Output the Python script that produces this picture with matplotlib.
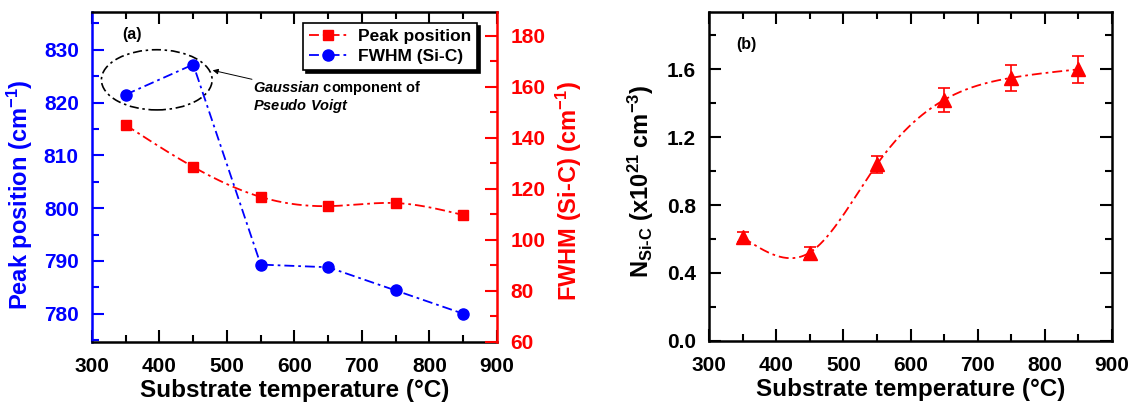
import numpy as np
import matplotlib
matplotlib.use("Agg")
import matplotlib.pyplot as plt
from matplotlib.patches import Ellipse
from matplotlib.lines import Line2D
from matplotlib.ticker import MultipleLocator, FormatStrFormatter

plt.rcParams["font.family"] = ["Liberation Sans", "DejaVu Sans"]
plt.rcParams["font.weight"] = "bold"
plt.rcParams["axes.labelweight"] = "bold"
plt.rcParams["mathtext.fontset"] = "custom"
plt.rcParams["mathtext.rm"] = "Liberation Sans:bold"
plt.rcParams["mathtext.bf"] = "Liberation Sans:bold"
plt.rcParams["mathtext.it"] = "Liberation Sans:bold:italic"
plt.rcParams["mathtext.default"] = "bf"

# ---- data ----
temperature = [350, 450, 550, 650, 750, 850]
fwhm_sic = [821.5, 827.2, 789.3, 788.8, 784.4, 780.0]        # blue circles, left axis
peak_position = [145.0, 128.6, 116.8, 113.2, 114.4, 109.7]   # red squares, right axis
n_sic = [0.61, 0.52, 1.04, 1.42, 1.55, 1.60]
n_sic_err = [0.03, 0.03, 0.05, 0.07, 0.075, 0.08]

x_ticks = [300, 400, 500, 600, 700, 800, 900]
left_ticks = [780, 790, 800, 810, 820, 830]
right_ticks = [60, 80, 100, 120, 140, 160, 180]
n_ticks = [0.0, 0.4, 0.8, 1.2, 1.6]

BLUE = "#0000ff"
RED = "#ff0000"
DASHDOT = (0, (5.5, 2.2, 1.5, 2.2))
TICK_FS = 15
LABEL_FS = 17
XLABEL_FS = 17.5


def cubic_spline(x, y, num=300):
    """Natural cubic spline through the given points."""
    x = np.asarray(x, float)
    y = np.asarray(y, float)
    n = len(x)
    h = np.diff(x)
    A = np.zeros((n, n))
    b = np.zeros(n)
    A[0, 0] = A[-1, -1] = 1.0
    for i in range(1, n - 1):
        A[i, i - 1] = h[i - 1]
        A[i, i] = 2 * (h[i - 1] + h[i])
        A[i, i + 1] = h[i]
        b[i] = 6 * ((y[i + 1] - y[i]) / h[i] - (y[i] - y[i - 1]) / h[i - 1])
    M = np.linalg.solve(A, b)
    xs = np.linspace(x[0], x[-1], num)
    idx = np.clip(np.searchsorted(x, xs) - 1, 0, n - 2)
    x0, x1 = x[idx], x[idx + 1]
    hh = x1 - x0
    t0, t1 = x1 - xs, xs - x0
    ys = (M[idx] * t0 ** 3 / (6 * hh) + M[idx + 1] * t1 ** 3 / (6 * hh)
          + (y[idx] / hh - M[idx] * hh / 6) * t0
          + (y[idx + 1] / hh - M[idx + 1] * hh / 6) * t1)
    return xs, ys


def style_ticks(ax, axis, color, pad, major_len=8.5, minor_len=4.8):
    ax.tick_params(axis=axis, which="both", direction="in", width=1.5,
                   colors=color, labelsize=TICK_FS, pad=pad)
    ax.tick_params(axis=axis, which="major", length=major_len)
    ax.tick_params(axis=axis, which="minor", length=minor_len)


fig = plt.figure(figsize=(11.37, 4.05), dpi=100)

# ---------------- panel (a) ----------------
ax1 = fig.add_axes([0.0809, 0.1563, 0.3562, 0.8148])
ax2 = ax1.twinx()

ax1.plot(temperature, fwhm_sic, color=BLUE, lw=1.3, ls=DASHDOT, zorder=2)
ax1.plot(temperature, fwhm_sic, ls="none", marker="o", ms=8,
         color=BLUE, zorder=3)

xs, ys = cubic_spline(temperature, peak_position)
ax2.plot(xs, ys, color=RED, lw=1.3, ls=DASHDOT)
ax2.plot(temperature, peak_position, ls="none", marker="s", ms=7, color=RED)

ax1.set_xlim(300, 900)
ax1.set_ylim(774.7, 837.2)
ax2.set_ylim(60, 189.5)
ax1.set_xticks(x_ticks)
ax1.xaxis.set_minor_locator(MultipleLocator(50))
ax1.set_yticks(left_ticks)
ax1.yaxis.set_minor_locator(MultipleLocator(5))
ax2.set_yticks(right_ticks)
ax2.yaxis.set_minor_locator(MultipleLocator(10))

style_ticks(ax1, "x", "black", pad=11)
ax1.tick_params(axis="x", which="both", top=True, bottom=True)
style_ticks(ax1, "y", BLUE, pad=9.5)
style_ticks(ax2, "y", RED, pad=9.5)

for sp in ax1.spines.values():
    sp.set_linewidth(1.8)
ax1.spines["left"].set_color(BLUE)
ax1.spines["right"].set_visible(False)
for name in ("left", "top", "bottom"):
    ax2.spines[name].set_visible(False)
ax2.spines["right"].set_color(RED)
ax2.spines["right"].set_linewidth(1.8)

ax1.set_xlabel("Substrate temperature (°C)", fontsize=XLABEL_FS,
               fontweight="bold", labelpad=2)
ax1.set_ylabel("Peak position (cm$^{-1}$)", fontsize=LABEL_FS, color=BLUE,
               fontweight="bold", labelpad=6)
ax2.set_ylabel("FWHM (Si-C) (cm$^{-1}$)", fontsize=LABEL_FS, color=RED,
               fontweight="bold", labelpad=6)
ax1.yaxis.label.set_y(0.445)
ax2.yaxis.label.set_y(0.456)

ax1.text(0.098, 0.93, "(a)", transform=ax1.transAxes, fontsize=11.5,
         fontweight="bold", ha="center", va="center")

ax1.add_patch(Ellipse((396, 824.3), 164, 11.4, fill=False, edgecolor="black",
                      lw=1.2, ls=DASHDOT, zorder=4))
ax1.annotate("", xy=(478.8, 826.1), xytext=(537, 824.4),
             arrowprops=dict(arrowstyle="-|>", color="black", lw=0.7,
                             mutation_scale=8, shrinkA=0, shrinkB=0))
ax1.text(538, 822.8, r"$\mathit{Gaussian}$ component of", fontsize=10.5,
         fontweight="bold", ha="left", va="center")
ax1.text(538, 819.4, r"$\mathit{Pseudo\ Voigt}$", fontsize=10.5,
         fontweight="bold", ha="left", va="center")

handles = [
    Line2D([], [], color=RED, lw=1.3, ls=DASHDOT, marker="s", ms=7),
    Line2D([], [], color=BLUE, lw=1.3, ls=DASHDOT, marker="o", ms=8),
]
leg = ax2.legend(handles, ["Peak position", "FWHM (Si-C)"],
                 loc="upper right", bbox_to_anchor=(0.951, 0.965),
                 borderaxespad=0, frameon=True, fancybox=False,
                 prop={"size": 12.5, "weight": "bold"},
                 shadow={"color": "black", "alpha": 1.0}, handlelength=2.2,
                 handletextpad=0.6, borderpad=0.35, labelspacing=0.25)
leg.get_frame().set_edgecolor("black")
leg.get_frame().set_linewidth(1.2)
leg.get_frame().set_alpha(1)

# ---------------- panel (b) ----------------
ax3 = fig.add_axes([0.6236, 0.1588, 0.3544, 0.8123])
xs, ys = cubic_spline(temperature, n_sic)
ax3.plot(xs, ys, color=RED, lw=1.3, ls=DASHDOT)
ax3.errorbar(temperature, n_sic, yerr=n_sic_err, fmt="^", ms=9.5, color=RED,
             ecolor=RED, elinewidth=1.2, capsize=4.5, capthick=1.2)

ax3.set_xlim(300, 900)
ax3.set_ylim(0, 1.94)
ax3.set_xticks(x_ticks)
ax3.xaxis.set_minor_locator(MultipleLocator(50))
ax3.set_yticks(n_ticks)
ax3.yaxis.set_minor_locator(MultipleLocator(0.2))
ax3.yaxis.set_major_formatter(FormatStrFormatter("%.1f"))
style_ticks(ax3, "x", "black", pad=11)
style_ticks(ax3, "y", "black", pad=9.5)
ax3.tick_params(which="both", top=True, right=True)
for sp in ax3.spines.values():
    sp.set_linewidth(1.8)

ax3.set_xlabel("Substrate temperature (°C)", fontsize=XLABEL_FS,
               fontweight="bold", labelpad=2)
ax3.set_ylabel(r"N$_{Si\text{-}C}$ (x10$^{21}$ cm$^{-3}$)", fontsize=LABEL_FS,
               fontweight="bold", labelpad=8)
ax3.yaxis.label.set_y(0.484)
ax3.text(0.0935, 0.90, "(b)", transform=ax3.transAxes, fontsize=11.5,
         fontweight="bold", ha="center", va="center")

fig.savefig("out.png", dpi=100)
